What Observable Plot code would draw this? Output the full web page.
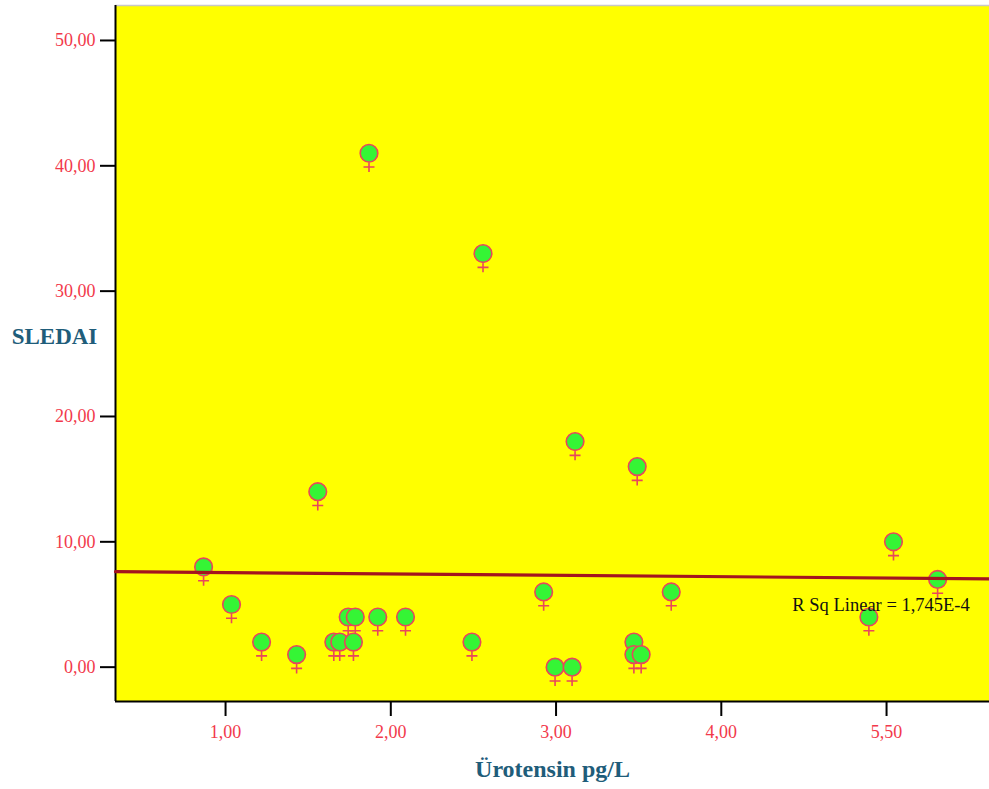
<!DOCTYPE html>
<html>
<head>
<meta charset="utf-8">
<script src="https://cdn.jsdelivr.net/npm/d3@7"></script>
<script src="https://cdn.jsdelivr.net/npm/@observablehq/plot@0.6"></script>
<style>
  html, body { margin: 0; padding: 0; background: #ffffff; }
  #chart { width: 989px; height: 789px; }
</style>
</head>
<body>
<div id="chart"></div>
<script>
// ---- Data ----
const urotensin = [0.867, 1.036, 1.218, 1.430, 1.558, 1.655, 1.691, 1.742, 1.785, 1.774,
                   1.868, 1.921, 2.089, 2.491, 2.558, 2.925, 2.994, 3.097, 3.115, 3.471,
                   3.471, 3.515, 3.491, 3.697, 4.893, 5.042, 5.309];
const sledai    = [8, 5, 2, 1, 14, 2, 2, 4, 4, 2,
                   41, 4, 4, 2, 33, 6, 0, 0, 18, 2,
                   1, 1, 16, 6, 4, 10, 7];
const xTickValues = [1, 2, 3, 4, 5];
const xTickLabels = ["1,00", "2,00", "3,00", "4,00", "5,50"];
const yTickValues = [0, 10, 20, 30, 40, 50];
const yTickLabels = ["0,00", "10,00", "20,00", "30,00", "40,00", "50,00"];
const xDomain = [0.334, 5.623];
const yDomain = [-2.74, 52.79];
const xTitle = "Ürotensin pg/L";
const yTitle = "SLEDAI";
const rsqText = "R Sq Linear = 1,745E-4";
const rsqPos = [{x: 4.43, y: 4.95}];

// ---- Build table ----
const points = urotensin.map((x, i) => ({x, y: sledai[i]}));

// least squares fit from the data
const mx = d3.mean(points, d => d.x), my = d3.mean(points, d => d.y);
const sxy = d3.sum(points, d => (d.x - mx) * (d.y - my));
const sxx = d3.sum(points, d => (d.x - mx) ** 2);
const slope = sxy / sxx, intercept = my - slope * mx;
const fitLine = xDomain.map(x => ({x, y: intercept + slope * x}));

// Venus-like symbol: circle with a cross below
const venus = {
  draw(context, size) {
    const r = Math.sqrt(size / Math.PI);
    context.moveTo(r, 0);
    context.arc(0, 0, r, 0, 2 * Math.PI);
    context.moveTo(0, r);
    context.lineTo(0, r + 10);
    context.moveTo(-5.5, r + 5);
    context.lineTo(5.5, r + 5);
  }
};

const tickColor = "#f2394b";
const titleColor = "#1f5d7a";

const chart = Plot.plot({
  width: 989,
  height: 789,
  marginLeft: 115,
  marginRight: 0,
  marginTop: 5,
  marginBottom: 88,
  style: {fontFamily: "'Liberation Serif', 'Times New Roman', serif", fontSize: "18px", background: "#ffffff"},
  x: {domain: xDomain},
  y: {domain: yDomain},
  marks: [
    Plot.frame({fill: "#ffff00", stroke: null}),
    Plot.ruleY([yDomain[1]], {stroke: "#c8c8c8", strokeWidth: 1.5}),
    Plot.axisX({ticks: xTickValues, tickFormat: (d) => xTickLabels[xTickValues.indexOf(d)], tickSize: 15, tickPadding: 9, stroke: "#000", strokeWidth: 2, fill: tickColor, fontSize: 18, label: null}),
    Plot.axisY({ticks: yTickValues, tickFormat: d => yTickLabels[yTickValues.indexOf(d)], tickSize: 15, tickPadding: 5, stroke: "#000", strokeWidth: 2, fill: tickColor, fontSize: 18, label: null}),
    Plot.ruleX([xDomain[0]], {stroke: "#000", strokeWidth: 2}),
    Plot.ruleY([yDomain[0]], {stroke: "#000", strokeWidth: 2}),
    Plot.dot(points, {x: "x", y: "y", r: 8.8, symbol: venus, fill: "#35f535", stroke: "#e8465c", strokeWidth: 1.6}),
    Plot.line(fitLine, {x: "x", y: "y", stroke: "#a3151f", strokeWidth: 3.2}),
    Plot.text(rsqPos, {x: "x", y: "y", text: () => rsqText, textAnchor: "start", fill: "#111", fontSize: 18.5}),
    Plot.text([yTitle], {frameAnchor: "left", textAnchor: "middle", dx: -61, dy: -17, text: d => d, fill: titleColor, fontWeight: "bold", fontSize: 23}),
    Plot.text([xTitle], {frameAnchor: "bottom", textAnchor: "middle", dy: 75, text: d => d, fill: titleColor, fontWeight: "bold", fontSize: 24})
  ]
});
document.getElementById("chart").appendChild(chart);
</script>
</body>
</html>
